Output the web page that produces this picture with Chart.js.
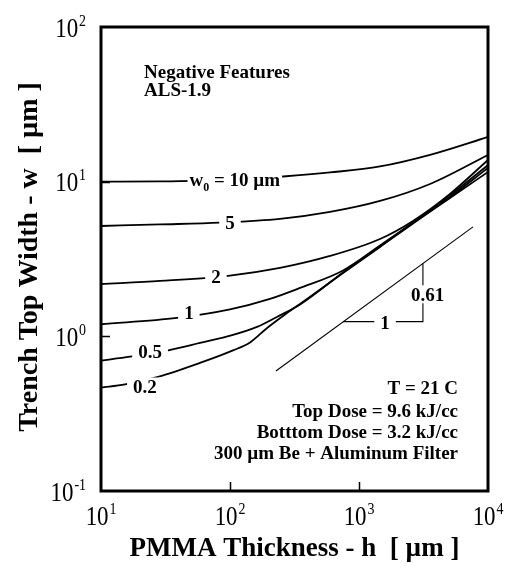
<!DOCTYPE html>
<html>
<head>
<meta charset="utf-8">
<script src="https://cdn.jsdelivr.net/npm/chart.js@4.4.0/dist/chart.umd.min.js"></script>
<style>
    html, body { margin: 0; padding: 0; background: #fff; }
    canvas { display: block; }
</style>
</head>
<body>
<canvas id="chart" width="512" height="567"></canvas>
<script>
(function () {
    'use strict';

    // PMMA thickness h [um] vs trench top width w [um], one curve per w0
    var h10 = [10, 28.7, 96.5, 258, 596, 1455, 3552, 10000];
    var w10 = [10, 10.03, 10.26, 10.8, 11.47, 12.54, 14.9, 19.45];

    var h5 = [10, 28.7, 83.6, 244, 596, 1455, 3552, 10000];
    var w5 = [5.17, 5.29, 5.43, 5.74, 6.37, 7.5, 9.66, 14.88];

    var h2 = [10, 28.7, 96.5, 244, 596, 1455, 2622, 5075, 10000];
    var w2 = [2.18, 2.28, 2.46, 2.77, 3.31, 4.26, 5.57, 8.33, 13.81];

    var h1 = [10, 38.8, 100, 204, 349, 752, 1455, 2622, 5075, 10000];
    var w1 = [1.197, 1.315, 1.492, 1.745, 2.055, 2.667, 3.87, 5.45, 8.15, 12.82];

    var h05 = [10, 16.8, 30.2, 58.5, 105.5, 162, 231, 349, 752, 1455, 2622, 5075, 10000];
    var w05 = [0.697, 0.739, 0.799, 0.906, 1.021, 1.15, 1.335, 1.608, 2.589, 3.81, 5.41, 7.96, 12.27];

    var h02 = [10, 15.35, 27.7, 58.5, 105.5, 143, 194, 267, 349, 752, 1455, 2622, 5075, 10000];
    var w02 = [0.466, 0.489, 0.547, 0.673, 0.811, 0.913, 1.133, 1.385, 1.62, 2.569, 3.784, 5.37, 7.85, 11.55];

    // slope guide (0.61) and its triangle
    var slopeH = [227, 7650];
    var slopeW = [0.597, 5.1];
    var triH = [752, 3130, 3130];
    var triW = [1.245, 1.245, 2.96];

    // curve labels (text, h, w)
    var curveText = ['5', '2', '1', '0.5', '0.2', '1', '0.61'];
    var curveTextH = [100, 77.8, 48, 24, 21.9, 1592, 3400];
    var curveTextW = [5.45, 2.45, 1.43, 0.799, 0.474, 1.23, 1.87];
    var w0TextH = 109;
    var w0TextW = 10;

    // axis ticks
    var xTicks = [10, 100, 1000, 10000];
    var xExp = ['1', '2', '3', '4'];
    var yTicks = [0.1, 1, 10, 100];
    var yExp = ['-1', '0', '1', '2'];

    var noteTop = ['Negative Features', 'ALS-1.9'];
    var noteBottom = ['T = 21 C', 'Top Dose = 9.6 kJ/cc', 'Botttom Dose = 3.2 kJ/cc', '300 \u00b5m Be + Aluminum Filter'];

    var serif = '"Liberation Serif", "Times New Roman", serif';

    function pts(hs, ws) {
        return hs.map(function (h, i) { return { x: h, y: ws[i] }; });
    }

    function curve(hs, ws) {
        return {
            data: pts(hs, ws),
            showLine: true,
            borderColor: '#000',
            borderWidth: 1.8,
            pointRadius: 0,
            cubicInterpolationMode: 'monotone'
        };
    }

    function thin(hs, ws) {
        return {
            data: pts(hs, ws),
            showLine: true,
            borderColor: '#000',
            borderWidth: 1.1,
            pointRadius: 0,
            tension: 0
        };
    }

    function powerLabel(ctx, x, y, exp, align) {
        ctx.save();
        ctx.translate(x, y);
        ctx.scale(0.82, 1);
        ctx.fillStyle = '#000';
        ctx.textAlign = 'left';
        ctx.textBaseline = 'alphabetic';
        ctx.font = '28px ' + serif;
        var bw = ctx.measureText('10').width;
        ctx.font = '17px ' + serif;
        var ew = ctx.measureText(exp).width;
        var total = bw + 1 + ew;
        var x0 = align === 'right' ? -total : -total / 2;
        ctx.font = '28px ' + serif;
        ctx.fillText('10', x0, 0);
        ctx.font = '17px ' + serif;
        ctx.fillText(exp, x0 + bw + 1, -11);
        ctx.restore();
    }

    var annotate = {
        id: 'annotate',
        afterDatasetsDraw: function (chart) {
            var ctx = chart.ctx;
            var xs = chart.scales.x, ys = chart.scales.y;
            ctx.save();
            ctx.font = 'bold 19px ' + serif;
            ctx.textAlign = 'center';
            ctx.textBaseline = 'alphabetic';
            curveText.forEach(function (t, i) {
                var px = xs.getPixelForValue(curveTextH[i]);
                var py = ys.getPixelForValue(curveTextW[i]);
                var tw = ctx.measureText(t).width;
                ctx.fillStyle = '#fff';
                ctx.fillRect(px - tw / 2 - 6, py - 9, tw + 12, 18);
                ctx.fillStyle = '#000';
                ctx.fillText(t, px, py + 6.5);
            });

            // w0 = 10 um label with subscript
            var cx = xs.getPixelForValue(w0TextH);
            var cy = ys.getPixelForValue(w0TextW);
            var a = 'w', b = ' = 10 \u00b5m';
            ctx.font = 'bold 19px ' + serif;
            var wa = ctx.measureText(a).width;
            var wb = ctx.measureText(b).width;
            ctx.font = 'bold 12px ' + serif;
            var ws = ctx.measureText('0').width;
            var total = wa + ws + wb;
            var x0 = cx - total / 2;
            ctx.fillStyle = '#fff';
            ctx.fillRect(x0 - 2, cy - 10, total + 4, 22);
            ctx.fillStyle = '#000';
            ctx.textAlign = 'left';
            ctx.font = 'bold 19px ' + serif;
            ctx.fillText(a, x0, cy + 4);
            ctx.fillText(b, x0 + wa + ws, cy + 4);
            ctx.font = 'bold 12px ' + serif;
            ctx.fillText('0', x0 + wa, cy + 9);
            ctx.restore();
        },
        afterDraw: function (chart) {
            var ctx = chart.ctx;
            var area = chart.chartArea;
            var xs = chart.scales.x, ys = chart.scales.y;
            ctx.save();

            // frame
            ctx.strokeStyle = '#000';
            ctx.lineWidth = 3;
            ctx.strokeRect(area.left, area.top, area.right - area.left, area.bottom - area.top);

            // inward decade ticks
            ctx.lineWidth = 1.5;
            ctx.beginPath();
            xTicks.slice(1, -1).forEach(function (v) {
                var px = Math.round(xs.getPixelForValue(v)) + 0.5;
                ctx.moveTo(px, area.bottom);
                ctx.lineTo(px, area.bottom - 9);
            });
            yTicks.slice(1, -1).forEach(function (v) {
                var py = Math.round(ys.getPixelForValue(v)) + 0.5;
                ctx.moveTo(area.left, py);
                ctx.lineTo(area.left + 9, py);
            });
            ctx.stroke();

            // tick labels
            xTicks.forEach(function (v, i) {
                powerLabel(ctx, xs.getPixelForValue(v), area.bottom + 34, xExp[i], 'center');
            });
            yTicks.forEach(function (v, i) {
                powerLabel(ctx, area.left - 15, ys.getPixelForValue(v) + 9.5, yExp[i], 'right');
            });

            // axis titles
            ctx.fillStyle = '#000';
            ctx.textAlign = 'center';
            ctx.textBaseline = 'alphabetic';
            ctx.font = 'bold 27px ' + serif;
            ctx.fillText('PMMA Thickness - h  [ \u00b5m ]', (area.left + area.right) / 2, area.bottom + 65);
            ctx.save();
            ctx.font = 'bold 28px ' + serif;
            ctx.translate(37, (area.top + area.bottom) / 2 - 2);
            ctx.rotate(-Math.PI / 2);
            ctx.fillText('Trench Top Width - w  [ \u00b5m ]', 0, 0);
            ctx.restore();

            // notes
            ctx.font = 'bold 19px ' + serif;
            ctx.textAlign = 'left';
            noteTop.forEach(function (t, i) {
                ctx.fillText(t, area.left + 43, area.top + 51 + i * 18);
            });
            ctx.textAlign = 'right';
            var noteY = [area.bottom - 97, area.bottom - 74, area.bottom - 53, area.bottom - 32];
            noteBottom.forEach(function (t, i) {
                ctx.fillText(t, area.right - 30, noteY[i]);
            });
            ctx.restore();
        }
    };

    new Chart(document.getElementById('chart'), {
        type: 'scatter',
        data: {
            datasets: [
                curve(h10, w10), curve(h5, w5), curve(h2, w2),
                curve(h1, w1), curve(h05, w05), curve(h02, w02),
                thin(slopeH, slopeW), thin(triH, triW)
            ]
        },
        options: {
            responsive: false,
            animation: false,
            devicePixelRatio: 1,
            layout: { padding: { left: 101, right: 24, top: 27, bottom: 76 } },
            scales: {
                x: { type: 'logarithmic', min: 10, max: 10000, display: false },
                y: { type: 'logarithmic', min: 0.1, max: 100, display: false }
            },
            plugins: {
                legend: { display: false },
                tooltip: { enabled: false }
            }
        },
        plugins: [annotate]
    });
})();
</script>
</body>
</html>
